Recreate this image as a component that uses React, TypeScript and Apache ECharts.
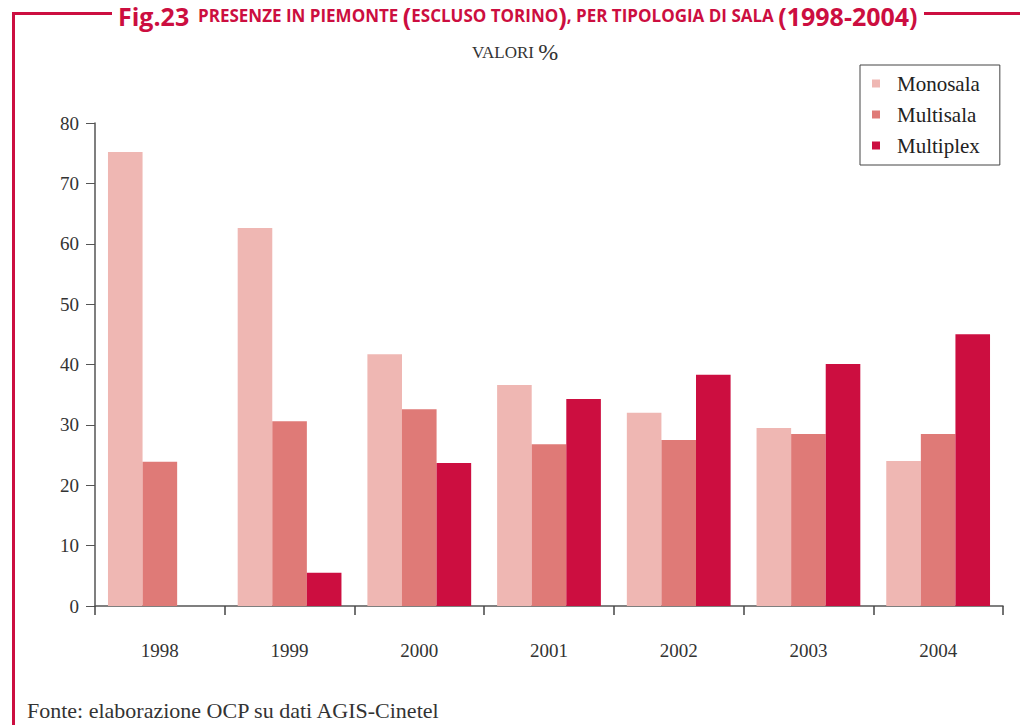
import React, { useEffect, useRef } from "react";
import * as echarts from "echarts";

const years = ["1998", "1999", "2000", "2001", "2002", "2003", "2004"];
const monosala = [75.2, 62.6, 41.7, 36.6, 32.0, 29.5, 24.0];
const multisala = [23.9, 30.6, 32.6, 26.8, 27.5, 28.5, 28.5];
const multiplex = [0, 5.5, 23.7, 34.3, 38.3, 40.1, 45.0];
const seriesNames = ["Monosala", "Multisala", "Multiplex"];
const colors = ["#efb7b3", "#df7a77", "#cc0e40"];
const RED = "#cc0e40";
const SERIF = "'Liberation Serif', 'DejaVu Serif', serif";
const SANS = "'Liberation Sans Narrow', 'Open Sans', 'Noto Sans', sans-serif";

export default function App() {
  const ref = useRef<HTMLDivElement>(null);
  useEffect(() => {
    if (!ref.current) return;
    const chart = echarts.init(ref.current, undefined, { renderer: "svg" });
    const data = [monosala, multisala, multiplex];
    chart.setOption({
      animation: false,
      backgroundColor: "#fff",
      color: colors,
      grid: { left: 95, right: 17, top: 123, bottom: 119, containLabel: false },
      legend: {
        orient: "vertical",
        left: 860,
        top: 65,
        borderColor: "#444",
        borderWidth: 1,
        padding: [8, 20, 9, 12],
        itemWidth: 8,
        itemHeight: 8,
        itemGap: 10,
        icon: "rect",
        data: seriesNames,
        textStyle: {
          fontFamily: SERIF,
          fontSize: 21,
          color: "#222",
          lineHeight: 20,
          padding: [0, 0, 0, 12],
        },
      },
      xAxis: {
        type: "category",
        data: years,
        axisLine: { lineStyle: { color: "#555", width: 1.5 } },
        axisTick: { show: true, length: 9, alignWithLabel: false, lineStyle: { color: "#444", width: 1.5 } },
        axisLabel: { fontFamily: SERIF, fontSize: 19, color: "#333", margin: 35 },
        splitLine: { show: false },
      },
      yAxis: {
        type: "value",
        min: 0,
        max: 80,
        interval: 10,
        axisLine: { show: true, lineStyle: { color: "#555", width: 1.5 } },
        axisTick: { show: true, length: 9, lineStyle: { color: "#555", width: 1 } },
        axisLabel: { fontFamily: SERIF, fontSize: 19, color: "#333", margin: 16 },
        splitLine: { show: false },
      },
      series: seriesNames.map((name, i) => ({
        name,
        type: "bar",
        data: data[i],
        barGap: "0%",
        barCategoryGap: "20%",
        itemStyle: { color: colors[i] },
      })),
      graphic: [
        { type: "line", shape: { x1: 13.5, y1: 13.5, x2: 13.5, y2: 725 }, style: { stroke: RED, lineWidth: 3 } },
        { type: "line", shape: { x1: 12, y1: 13.5, x2: 112, y2: 13.5 }, style: { stroke: RED, lineWidth: 3 } },
        { type: "line", shape: { x1: 924, y1: 13.5, x2: 1020, y2: 13.5 }, style: { stroke: RED, lineWidth: 3 } },
        {
          type: "text",
          left: 118,
          top: 3,
          style: {
            text: "{a|Fig.23}{b|  PRESENZE IN PIEMONTE }{c|(}{b|ESCLUSO TORINO}{c|)}{b|, PER TIPOLOGIA DI SALA }{c|(1998-2004)}",
            rich: {
              a: { fontFamily: SANS, fontSize: 25, fontWeight: "bold", fill: RED },
              b: { fontFamily: SANS, fontSize: 17, fontWeight: "bold", fill: RED },
              c: { fontFamily: SANS, fontSize: 25, fontWeight: "bold", fill: RED },
            },
          },
        },
        {
          type: "text",
          left: 472,
          top: 40,
          style: {
            text: "{a|VALORI }{b|%}",
            rich: {
              a: { fontFamily: SERIF, fontSize: 17, fill: "#333" },
              b: { fontFamily: SERIF, fontSize: 24, fill: "#333" },
            },
          },
        },
        {
          type: "text",
          left: 27,
          top: 699,
          style: { text: "Fonte: elaborazione OCP su dati AGIS-Cinetel", fontFamily: SERIF, fontSize: 22, fill: "#333" },
        },
      ],
    });
    return () => chart.dispose();
  }, []);
  return <div ref={ref} style={{ width: 1020, height: 725, position: "absolute", left: 0, top: 0 }} />;
}
